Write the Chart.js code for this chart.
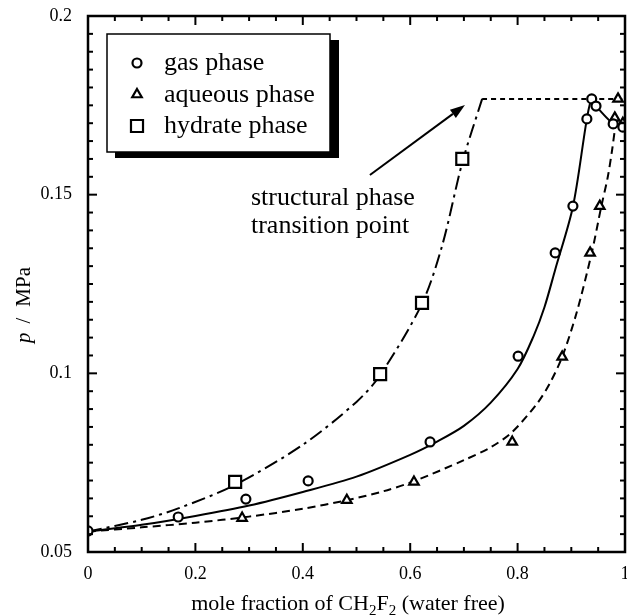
<!DOCTYPE html>
<html>
<head>
<meta charset="utf-8">
<script src="https://cdn.jsdelivr.net/npm/chart.js@4.4.1/dist/chart.umd.min.js"></script>
<style>
  html, body { margin: 0; padding: 0; background: #fff; }
  canvas { display: block; }
</style>
</head>
<body>
<canvas id="phaseChart" width="627" height="616"></canvas>
<script>
// measured points (mole fraction, pressure in MPa)
const gasX = [0, 0.168, 0.294, 0.41, 0.637, 0.801, 0.87, 0.903, 0.929, 0.938, 0.946, 0.978, 0.996];
const gasP = [0.0559, 0.0598, 0.0648, 0.0699, 0.0808, 0.1048, 0.1337, 0.1468, 0.1712, 0.1768, 0.1748, 0.1698, 0.1689];

const aqX = [0.287, 0.482, 0.607, 0.79, 0.883, 0.935, 0.953, 0.981, 0.987, 0.996];
const aqP = [0.0595, 0.0645, 0.0696, 0.0808, 0.1046, 0.1337, 0.1468, 0.1715, 0.1768, 0.17];

const hydX = [0.274, 0.544, 0.622, 0.697];
const hydP = [0.0696, 0.0998, 0.1197, 0.16];

// fitted curves
const gasFitX = [0, 0.1, 0.2, 0.3, 0.4, 0.5, 0.6, 0.65, 0.7, 0.75, 0.8, 0.83, 0.85, 0.87, 0.903, 0.929, 0.938, 0.946, 0.978, 0.996];
const gasFitP = [0.0557, 0.0576, 0.0601, 0.063, 0.0668, 0.0711, 0.0772, 0.0809, 0.0853, 0.0918, 0.1012, 0.1105, 0.1185, 0.129, 0.1466, 0.1712, 0.1768, 0.1748, 0.1698, 0.1689];

const aqFitX = [0, 0.1, 0.2, 0.3, 0.4, 0.482, 0.55, 0.607, 0.7, 0.75, 0.79, 0.836, 0.86, 0.883, 0.91, 0.938, 0.956, 0.968, 0.976, 0.981, 0.985];
const aqFitP = [0.0557, 0.0569, 0.0582, 0.0599, 0.0621, 0.0645, 0.067, 0.0698, 0.0757, 0.0793, 0.0836, 0.0915, 0.0972, 0.1046, 0.117, 0.1337, 0.1468, 0.155, 0.1625, 0.168, 0.1715];

const hydFitX = [0, 0.1, 0.168, 0.274, 0.4, 0.5, 0.544, 0.622, 0.66, 0.697, 0.734];
const hydFitP = [0.0557, 0.059, 0.0622, 0.0688, 0.08, 0.092, 0.0995, 0.1195, 0.136, 0.159, 0.1768];

const threePhaseX = [0.734, 1];
const threePhaseP = [0.1768, 0.1768];

const xTickVals = [0, 0.2, 0.4, 0.6, 0.8, 1];
const xTickLabels = ["0", "0.2", "0.4", "0.6", "0.8", "1"];
const yTickVals = [0.05, 0.1, 0.15, 0.2];
const yTickLabels = ["0.05", "0.1", "0.15", "0.2"];

const legendLabels = ["gas phase", "aqueous phase", "hydrate phase"];
const noteLines = ["structural phase", "transition point"];
const noteAt = [0.3035, 0.1471];
const arrowFrom = [0.525, 0.1555];
const arrowTo = [0.702, 0.1751];

const SERIF = '"Liberation Serif", "Times New Roman", serif';

const pts = (xs, ys) => xs.map((v, i) => ({ x: v, y: ys[i] }));

function markerSet(label, xs, ys, style, radius) {
  return {
    label,
    data: pts(xs, ys),
    showLine: false,
    pointStyle: style,
    pointRadius: radius,
    pointBorderWidth: 2.2,
    pointBorderColor: "#000",
    pointBackgroundColor: "#fff",
  };
}

function curveSet(label, xs, ys, dash) {
  return {
    label,
    data: pts(xs, ys),
    showLine: true,
    borderColor: "#000",
    borderWidth: 2,
    borderDash: dash,
    pointRadius: 0,
    tension: 0.3,
  };
}

const frameAndNotes = {
  id: "frameAndNotes",
  afterDraw(chart) {
    const { ctx, chartArea: a, scales: { x, y } } = chart;
    const seg = (x1, y1, x2, y2) => {
      ctx.beginPath();
      ctx.moveTo(x1, y1);
      ctx.lineTo(x2, y2);
      ctx.stroke();
    };
    ctx.save();
    ctx.strokeStyle = "#000";
    ctx.fillStyle = "#000";
    ctx.setLineDash([]);

    // inward ticks on all four sides
    ctx.lineWidth = 2;
    for (let i = 0; i <= 20; i++) {
      const px = x.getPixelForValue(i * 0.05);
      const len = i % 4 === 0 ? 9 : 5;
      seg(px, a.bottom, px, a.bottom - len);
      seg(px, a.top, px, a.top + len);
    }
    for (let i = 0; i <= 30; i++) {
      const py = y.getPixelForValue(0.05 + i * 0.005);
      const len = i % 10 === 0 ? 9 : 5;
      seg(a.left, py, a.left + len, py);
      seg(a.right, py, a.right - len, py);
    }
    ctx.lineWidth = 2.5;
    ctx.strokeRect(a.left, a.top, a.right - a.left, a.bottom - a.top);

    // legend box with drop shadow
    ctx.fillRect(115, 40, 224, 118);
    ctx.fillStyle = "#fff";
    ctx.fillRect(107, 34, 223, 118);
    ctx.lineWidth = 1.5;
    ctx.strokeRect(107, 34, 223, 118);
    ctx.font = "26px " + SERIF;
    ctx.textBaseline = "alphabetic";
    ctx.textAlign = "left";
    legendLabels.forEach((txt, i) => {
      const ds = chart.data.datasets[i];
      const base = 70 + i * 31.5;
      ctx.fillStyle = "#fff";
      ctx.lineWidth = 2.2;
      Chart.helpers.drawPoint(ctx, {
        pointStyle: ds.pointStyle,
        radius: ds.pointRadius,
        rotation: 0,
        borderWidth: 2.2,
      }, 137, base - 7);
      ctx.fillStyle = "#000";
      ctx.fillText(txt, 164, base);
    });

    // annotation text
    const nx = x.getPixelForValue(noteAt[0]);
    const ny = y.getPixelForValue(noteAt[1]);
    noteLines.forEach((t, i) => ctx.fillText(t, nx, ny + i * 28));

    // arrow
    const ax1 = x.getPixelForValue(arrowFrom[0]);
    const ay1 = y.getPixelForValue(arrowFrom[1]);
    const ax2 = x.getPixelForValue(arrowTo[0]);
    const ay2 = y.getPixelForValue(arrowTo[1]);
    const ang = Math.atan2(ay2 - ay1, ax2 - ax1);
    const hl = 15, hw = 5;
    const bx = ax2 - hl * Math.cos(ang);
    const by = ay2 - hl * Math.sin(ang);
    ctx.lineWidth = 2;
    seg(ax1, ay1, bx, by);
    ctx.beginPath();
    ctx.moveTo(ax2, ay2);
    ctx.lineTo(bx + hw * Math.sin(ang), by - hw * Math.cos(ang));
    ctx.lineTo(bx - hw * Math.sin(ang), by + hw * Math.cos(ang));
    ctx.closePath();
    ctx.fill();

    // x axis title with subscripts
    const big = "22px " + SERIF;
    const small = "15px " + SERIF;
    const parts = [
      ["mole fraction of CH", big, 0],
      ["2", small, 5],
      ["F", big, 0],
      ["2", small, 5],
      [" (water free)", big, 0],
    ];
    let total = 0;
    parts.forEach(([t, f]) => { ctx.font = f; total += ctx.measureText(t).width; });
    let cx = 348 - total / 2;
    parts.forEach(([t, f, dy]) => {
      ctx.font = f;
      ctx.fillText(t, cx, 610 + dy);
      cx += ctx.measureText(t).width;
    });

    // y axis title, rotated
    ctx.translate(30, 305);
    ctx.rotate(-Math.PI / 2);
    const yParts = [["p", "italic 21px " + SERIF, 9], ["/", "21px " + SERIF, 11], ["MPa", "21px " + SERIF, 0]];
    let yTotal = 0;
    yParts.forEach(([t, f, gap]) => { ctx.font = f; yTotal += ctx.measureText(t).width + gap; });
    let cy = -yTotal / 2;
    yParts.forEach(([t, f, gap]) => {
      ctx.font = f;
      ctx.fillText(t, cy, 0);
      cy += ctx.measureText(t).width + gap;
    });
    ctx.restore();
  },
};

new Chart(document.getElementById("phaseChart"), {
  type: "scatter",
  data: {
    datasets: [
      markerSet("gas phase", gasX, gasP, "circle", 4.5),
      markerSet("aqueous phase", aqX, aqP, "triangle", 5.5),
      markerSet("hydrate phase", hydX, hydP, "rect", 8.5),
      curveSet("gas fit", gasFitX, gasFitP, []),
      curveSet("aqueous fit", aqFitX, aqFitP, [8, 5]),
      curveSet("hydrate fit", hydFitX, hydFitP, [14, 5, 3, 5]),
      curveSet("three-phase line", threePhaseX, threePhaseP, [5, 4]),
    ],
  },
  options: {
    responsive: false,
    animation: false,
    events: [],
    layout: { autoPadding: false, padding: { left: 0, right: 2, top: 16, bottom: 0 } },
    plugins: {
      legend: { display: false },
      tooltip: { enabled: false },
    },
    scales: {
      x: {
        type: "linear",
        min: 0,
        max: 1,
        grid: { display: false, drawTicks: false, tickLength: 0 },
        border: { display: false },
        afterBuildTicks: (s) => { s.ticks = xTickVals.map((v) => ({ value: v })); },
        afterFit: (s) => { s.height = 64; s.paddingLeft = 0; s.paddingRight = 0; },
        ticks: {
          padding: 11,
          color: "#000",
          font: { family: SERIF, size: 18 },
          maxRotation: 0,
          callback: (v, i) => xTickLabels[i],
        },
      },
      y: {
        type: "linear",
        min: 0.05,
        max: 0.2,
        grid: { display: false, drawTicks: false, tickLength: 0 },
        border: { display: false },
        afterBuildTicks: (s) => { s.ticks = yTickVals.map((v) => ({ value: v })); },
        afterFit: (s) => { s.width = 88; s.paddingTop = 0; s.paddingBottom = 0; },
        ticks: {
          padding: 16,
          color: "#000",
          font: { family: SERIF, size: 18 },
          callback: (v, i) => yTickLabels[i],
        },
      },
    },
  },
  plugins: [frameAndNotes],
});
</script>
</body>
</html>
